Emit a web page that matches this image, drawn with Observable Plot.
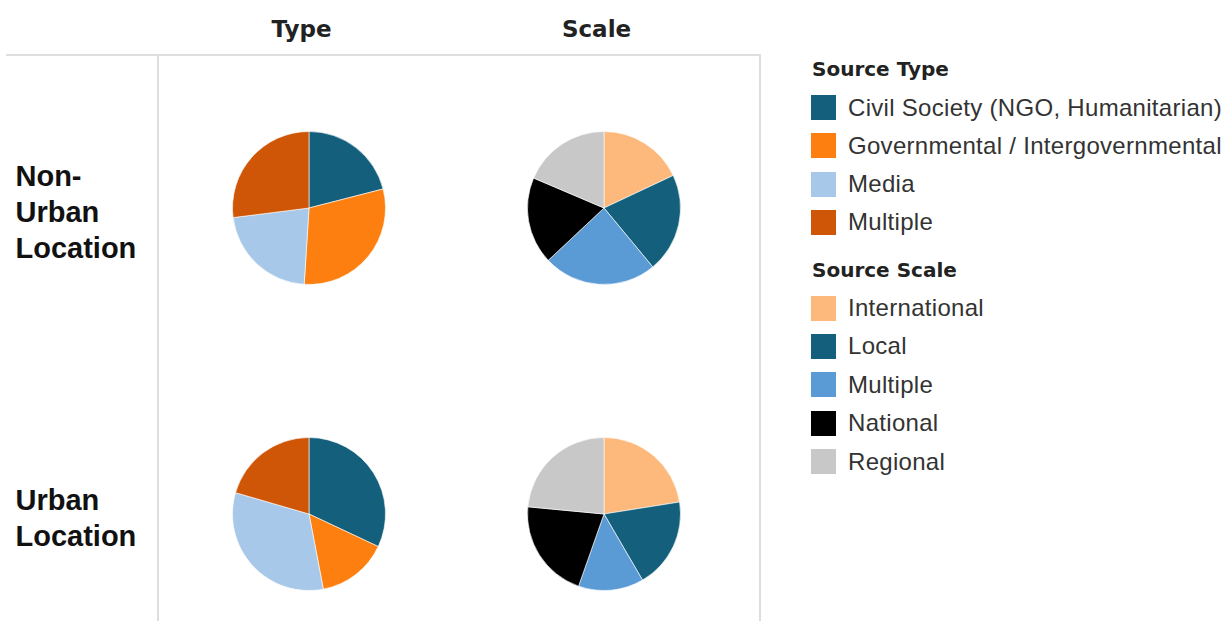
<!DOCTYPE html>
<html>
<head>
<meta charset="utf-8">
<script src="https://cdn.jsdelivr.net/npm/d3@7"></script>
<script src="https://cdn.jsdelivr.net/npm/@observablehq/plot@0.6"></script>
<style>
html, body { margin: 0; padding: 0; background: #fff; }
#wrap { position: relative; width: 1228px; height: 621px; overflow: hidden; background: #fff; }
#chart { position: absolute; left: 0; top: 0; }
.hline { position: absolute; left: 6px; top: 54px; width: 755px; height: 2px; background: #dedede; }
.vline { position: absolute; top: 55px; width: 2px; height: 566px; background: #dedede; }
#legend { position: absolute; left: 811px; top: 0; width: 417px; height: 621px; }
.lg-title { position: absolute; left: 1px; font-family: "DejaVu Sans", sans-serif; font-weight: bold; font-size: 20px; line-height: 20px; white-space: nowrap; color: #222; }
.lg-item { position: absolute; left: 0; height: 25px; white-space: nowrap; display: flex; align-items: center; }
.lg-sw { width: 25px; height: 25px; margin-right: 12px; flex: none; }
.lg-lab { font-family: "Liberation Sans", Arial, sans-serif; font-size: 24px; letter-spacing: 0.3px; color: #333; }
</style>
</head>
<body>
<div id="wrap">
  <div id="chart"></div>
  <div class="hline"></div>
  <div class="vline" style="left:157px"></div>
  <div class="vline" style="left:759px"></div>
  <div id="legend"></div>
</div>
<script>
// ---- data ----
const panels = ["Type", "Scale"];
const locations = ["Non-Urban Location", "Urban Location"];
const locationLabels = ["Non-\nUrban\nLocation", "Urban\nLocation"];

const typeCategories = ["Civil Society (NGO, Humanitarian)", "Governmental / Intergovernmental", "Media", "Multiple"];
const typeColors = ["#14607c", "#fd7f0f", "#a7c8e9", "#cf5507"];
const typeNonUrban = [21, 30, 22, 27];
const typeUrban = [32, 15, 32.5, 20.5];

const scaleCategories = ["International", "Local", "Multiple", "National", "Regional"];
const scaleColors = ["#fdb97b", "#14607c", "#5b9bd5", "#000000", "#c8c8c8"];
const scaleNonUrban = [18, 21, 24, 18.4, 18.6];
const scaleUrban = [22.5, 19.1, 13.8, 21.1, 23.5];

// ---- table built from the arrays ----
const rows = [];
function addRows(panel, location, cats, vals) {
  cats.forEach((c, i) => rows.push({panel, location, category: c, key: panel + ": " + c, value: vals[i]}));
}
addRows("Type", locations[0], typeCategories, typeNonUrban);
addRows("Type", locations[1], typeCategories, typeUrban);
addRows("Scale", locations[0], scaleCategories, scaleNonUrban);
addRows("Scale", locations[1], scaleCategories, scaleUrban);

const colorDomain = [...typeCategories.map(c => "Type: " + c), ...scaleCategories.map(c => "Scale: " + c)];
const colorRange = [...typeColors, ...scaleColors];

// custom pie mark using Plot's scales
function pies(index, scales) {
  const g = d3.create("svg:g");
  const arc = d3.arc().innerRadius(0).outerRadius(76.5);
  const pie = d3.pie().sort(null).value(d => d.value);
  for (const loc of locations) {
    for (const panel of panels) {
      const slices = rows.filter(r => r.location === loc && r.panel === panel);
      g.append("g")
        .attr("transform", `translate(${scales.x(panel)},${scales.y(loc)})`)
        .selectAll("path")
        .data(pie(slices))
        .join("path")
        .attr("d", arc)
        .attr("fill", d => scales.color(d.data.key))
        .attr("stroke", "#fff")
        .attr("stroke-width", 0.6);
    }
  }
  return g.node();
}

const chart = Plot.plot({
  width: 770,
  height: 621,
  marginTop: 55,
  marginLeft: 157,
  marginRight: 11,
  marginBottom: 0,
  style: {background: "transparent"},
  x: {type: "point", domain: panels, range: [309, 604], padding: 0, axis: null},
  y: {type: "point", domain: locations, range: [208, 514.5], padding: 0, axis: null},
  color: {type: "ordinal", domain: colorDomain, range: colorRange},
  marks: [
    Plot.dot(rows, {x: "panel", y: "location", fill: "key", r: 0}),
    pies,
    Plot.text(panels, {
      x: d => d, frameAnchor: "top", lineAnchor: "top", dy: -35, dx: -8,
      text: d => d, fontFamily: "DejaVu Sans", fontWeight: "bold", fontSize: 23, fill: "#222"
    }),
    Plot.text(locations, {
      y: d => d, frameAnchor: "left", textAnchor: "start", lineAnchor: "middle", dx: -142, dy: 2,
      text: (d, i) => locationLabels[i], fontFamily: "Liberation Sans", fontWeight: "bold",
      fontSize: 29, lineHeight: 1.24, fill: "#111"
    })
  ]
});
document.getElementById("chart").appendChild(chart);

// ---- legend ----
const legend = document.getElementById("legend");
function addTitle(text, top) {
  const t = document.createElement("div");
  t.className = "lg-title";
  t.style.top = top + "px";
  t.textContent = text;
  legend.appendChild(t);
}
function addItems(cats, cols, top0, step) {
  cats.forEach((c, i) => {
    const it = document.createElement("div");
    it.className = "lg-item";
    it.style.top = (top0 + i * step) + "px";
    const sw = document.createElement("div");
    sw.className = "lg-sw";
    sw.style.background = cols[i];
    const lab = document.createElement("span");
    lab.className = "lg-lab";
    lab.textContent = c;
    it.appendChild(sw);
    it.appendChild(lab);
    legend.appendChild(it);
  });
}
addTitle("Source Type", 59);
addItems(typeCategories, typeColors, 95, 38.3);
addTitle("Source Scale", 260);
addItems(scaleCategories, scaleColors, 295.5, 38.4);
</script>
</body>
</html>
